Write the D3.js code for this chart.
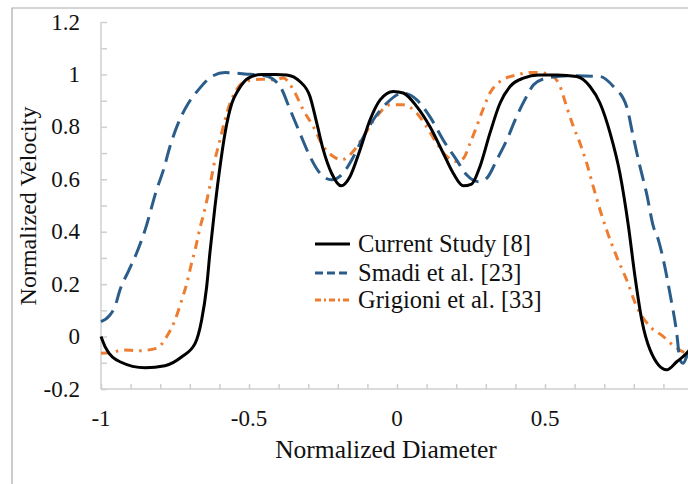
<!DOCTYPE html>
<html lang="en">
  <head>
    <meta charset="UTF-8" />
    <title>Normalized Velocity vs Normalized Diameter</title>
    <script src="https://d3js.org/d3.v7.min.js"></script>
    <style>
      html,
      body {
        margin: 0;
        padding: 0;
        background: #fff;
      }
      #chart svg {
        display: block;
        font-family: "Liberation Serif", "Times New Roman", serif;
      }
    </style>
  </head>
  <body>
    <div id="chart"></div>

    <script>
      // Données (x = diamètre normalisé, y = vitesse normalisée)
      const currentX = [-1, -0.986, -0.936, -0.851, -0.784, -0.727, -0.682, -0.66, -0.643, -0.632, -0.615, -0.598, -0.581, -0.558, -0.536, -0.502, -0.457, -0.41, -0.373, -0.328, -0.294, -0.271, -0.249, -0.221, -0.189, -0.159, -0.125, -0.091, -0.057, -0.012, 0.021, 0.067, 0.111, 0.156, 0.19, 0.224, 0.252, 0.28, 0.314, 0.348, 0.382, 0.427, 0.48, 0.54, 0.607, 0.652, 0.686, 0.72, 0.753, 0.782, 0.804, 0.827, 0.855, 0.911, 0.945, 0.983, 1];
      const currentY = [0, -0.039, -0.096, -0.119, -0.111, -0.077, -0.026, 0.063, 0.19, 0.32, 0.496, 0.648, 0.776, 0.89, 0.941, 0.986, 1.0, 1.0, 0.998, 0.973, 0.916, 0.814, 0.712, 0.623, 0.575, 0.61, 0.712, 0.827, 0.903, 0.935, 0.929, 0.877, 0.801, 0.7, 0.623, 0.575, 0.582, 0.648, 0.776, 0.89, 0.954, 0.986, 0.998, 0.998, 0.992, 0.954, 0.89, 0.776, 0.623, 0.42, 0.229, 0.063, -0.051, -0.127, -0.096, -0.058, -0.03];

      const smadiX = [-1, -0.97, -0.953, -0.936, -0.908, -0.88, -0.851, -0.812, -0.789, -0.767, -0.739, -0.705, -0.671, -0.626, -0.581, -0.514, -0.446, -0.395, -0.361, -0.328, -0.294, -0.26, -0.221, -0.187, -0.153, -0.119, -0.08, -0.035, 0.021, 0.067, 0.111, 0.156, 0.201, 0.235, 0.275, 0.303, 0.337, 0.371, 0.404, 0.438, 0.461, 0.506, 0.584, 0.686, 0.731, 0.776, 0.798, 0.821, 0.843, 0.866, 0.883, 0.9, 0.922, 0.945, 0.956, 0.967, 0.983, 1];
      const smadiY = [0.057, 0.082, 0.114, 0.178, 0.248, 0.318, 0.407, 0.56, 0.636, 0.725, 0.814, 0.89, 0.941, 0.992, 1.007, 1.002, 0.995, 0.954, 0.865, 0.776, 0.687, 0.623, 0.598, 0.617, 0.674, 0.75, 0.827, 0.89, 0.929, 0.903, 0.839, 0.75, 0.674, 0.617, 0.591, 0.604, 0.674, 0.75, 0.839, 0.916, 0.96, 0.986, 0.995, 0.992, 0.954, 0.877, 0.763, 0.648, 0.547, 0.42, 0.369, 0.292, 0.165, 0.013, -0.089, -0.102, -0.064, -0.03];

      const grigioniX = [-1, -0.964, -0.925, -0.874, -0.812, -0.778, -0.75, -0.727, -0.71, -0.694, -0.682, -0.666, -0.654, -0.637, -0.615, -0.598, -0.581, -0.564, -0.542, -0.514, -0.457, -0.418, -0.384, -0.35, -0.317, -0.283, -0.249, -0.215, -0.187, -0.153, -0.114, -0.069, -0.024, 0.021, 0.067, 0.1, 0.134, 0.168, 0.201, 0.224, 0.247, 0.269, 0.292, 0.314, 0.348, 0.404, 0.449, 0.483, 0.528, 0.551, 0.573, 0.596, 0.618, 0.641, 0.663, 0.686, 0.708, 0.742, 0.776, 0.81, 0.855, 0.9, 0.945, 0.979, 1];
      const grigioniY = [-0.064, -0.061, -0.051, -0.054, -0.045, 0.0, 0.063, 0.14, 0.203, 0.28, 0.331, 0.413, 0.464, 0.547, 0.674, 0.75, 0.827, 0.89, 0.941, 0.973, 0.982, 0.979, 0.986, 0.941, 0.865, 0.801, 0.725, 0.687, 0.674, 0.7, 0.763, 0.839, 0.884, 0.884, 0.852, 0.801, 0.738, 0.687, 0.668, 0.68, 0.738, 0.801, 0.871, 0.929, 0.973, 0.998, 1.007, 1.007, 0.992, 0.954, 0.877, 0.801, 0.738, 0.661, 0.572, 0.483, 0.407, 0.305, 0.216, 0.114, 0.038, 0.0, -0.045, -0.064, -0.07];

      const seriesNames = ["Current Study [8]", "Smadi et al. [23]", "Grigioni et al. [33]"];
      const yTicks = [-0.2, 0, 0.2, 0.4, 0.6, 0.8, 1, 1.2];
      // le libellé "1" tombe hors de l'image dans la figure d'origine
      const xTicks = [-1, -0.5, 0, 0.5];

      const width = 688;
      const height = 484;

      const svg = d3
        .select("#chart")
        .append("svg")
        .attr("width", width)
        .attr("height", height);

      // Cadre gris de la zone du graphique
      svg
        .append("path")
        .attr("d", `M12,${height + 2} V8 H${width + 2}`)
        .attr("fill", "none")
        .attr("stroke", "#a9a9a9")
        .attr("stroke-width", 1.2);

      const x = d3.scaleLinear().domain([-1, 1]).range([101, 693]);
      const y = d3.scaleLinear().domain([-0.2, 1.2]).range([389, 22]);

      const axisColor = "#cfcfcf";

      // Axe Y : ligne + graduations tous les 0.1
      const yAxis = d3
        .axisRight(y)
        .tickValues(d3.range(-2, 13).map((d) => d / 10))
        .tickSize(6)
        .tickFormat("");
      const gy = svg.append("g").attr("transform", `translate(${x(-1)},0)`).call(yAxis);
      gy.select(".domain").attr("d", `M0,${y(-0.2)}V${y(1.2)}`);
      gy.selectAll("line, .domain").attr("stroke", axisColor).attr("stroke-width", 1.5);

      svg
        .append("g")
        .selectAll("text")
        .data(yTicks)
        .join("text")
        .attr("x", 80)
        .attr("y", (d) => y(d) + 7.5)
        .attr("text-anchor", "end")
        .style("font-size", "23px")
        .attr("fill", "#111")
        .text((d) => (d < 0 ? "-" + Math.abs(d) : d));

      // Axe X : ligne + graduations tous les 0.1
      const xAxis = d3
        .axisTop(x)
        .tickValues(d3.range(-10, 11).map((d) => d / 10))
        .tickSize(5)
        .tickFormat("");
      const gx = svg.append("g").attr("transform", `translate(0,${y(-0.2)})`).call(xAxis);
      gx.select(".domain").attr("d", `M${x(-1)},0H${x(1)}`);
      gx.selectAll("line, .domain").attr("stroke", axisColor).attr("stroke-width", 1.5);

      svg
        .append("g")
        .selectAll("text")
        .data(xTicks)
        .join("text")
        .attr("x", (d) => x(d))
        .attr("y", 426)
        .attr("text-anchor", "middle")
        .style("font-size", "23px")
        .attr("fill", "#111")
        .text((d) => (d < 0 ? "-" + Math.abs(d) : d));

      // Titres des axes
      svg
        .append("text")
        .attr("x", 386)
        .attr("y", 458)
        .attr("text-anchor", "middle")
        .style("font-size", "25.5px")
        .attr("fill", "#111")
        .text("Normalized Diameter");

      svg
        .append("text")
        .attr("transform", "translate(36,206) rotate(-90)")
        .attr("text-anchor", "middle")
        .style("font-size", "24px")
        .attr("fill", "#111")
        .text("Normalized Velocity");

      // Courbes
      const line = d3
        .line()
        .x((d) => x(d[0]))
        .y((d) => y(d[1]))
        .curve(d3.curveMonotoneX);

      const series = [
        { name: seriesNames[0], xs: currentX, ys: currentY, color: "#000000", dash: null, legendDash: null },
        { name: seriesNames[1], xs: smadiX, ys: smadiY, color: "#2b5d8a", dash: "17,8", legendDash: "8,4" },
        { name: seriesNames[2], xs: grigioniX, ys: grigioniY, color: "#ed7d31", dash: "9,6,2.5,6", legendDash: "6,3,2,3" },
      ];

      // Ordre de tracé : orange, bleu, puis noir par-dessus
      [series[2], series[1], series[0]].forEach((s) => {
        svg
          .append("path")
          .datum(d3.zip(s.xs, s.ys))
          .attr("d", line)
          .attr("fill", "none")
          .attr("stroke", s.color)
          .attr("stroke-width", 3)
          .attr("stroke-linejoin", "round")
          .attr("stroke-dasharray", s.dash);
      });

      // Légende
      const legendY = [244, 273, 300];
      const legend = svg.append("g");
      series.forEach((s, i) => {
        legend
          .append("line")
          .attr("x1", 315)
          .attr("x2", 350)
          .attr("y1", legendY[i])
          .attr("y2", legendY[i])
          .attr("stroke", s.color)
          .attr("stroke-width", 3)
          .attr("stroke-dasharray", s.legendDash);
        legend
          .append("text")
          .attr("x", 358)
          .attr("y", legendY[i] + 8)
          .style("font-size", "24.5px")
          .attr("fill", "#111")
          .text(s.name);
      });
    </script>
  </body>
</html>
